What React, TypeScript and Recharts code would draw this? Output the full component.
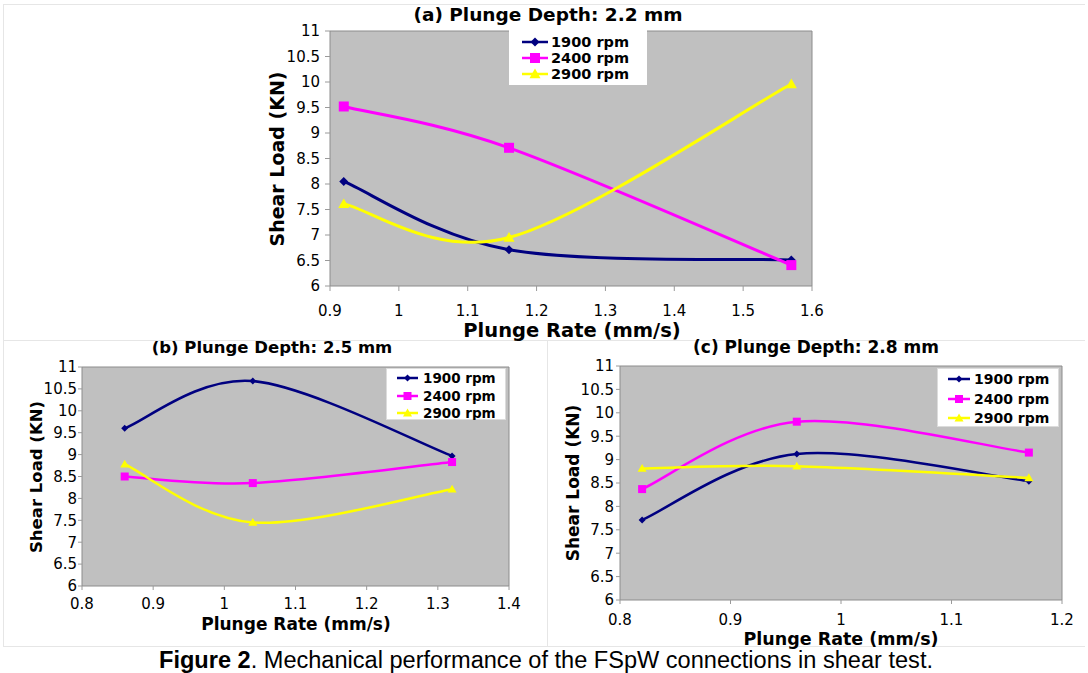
import React from 'react'
import { LineChart, Line, XAxis, YAxis, CartesianGrid, ReferenceLine, Legend } from 'recharts'

const FONT = '"DejaVu Sans", Verdana, sans-serif'

const seriesNames = ['1900 rpm', '2400 rpm', '2900 rpm']
const seriesKeys = ['r1900', 'r2400', 'r2900']
const seriesColors = ['#000080', '#ff00ff', '#ffff00']
const loadTicks = [6, 6.5, 7, 7.5, 8, 8.5, 9, 9.5, 10, 10.5, 11]

// (a) plunge depth 2.2 mm
const rateA = [0.92, 1.16, 1.57]
const a1900 = [8.05, 6.71, 6.51]
const a2400 = [9.52, 8.71, 6.41]
const a2900 = [7.61, 6.95, 9.96]
const ticksA = [0.9, 1, 1.1, 1.2, 1.3, 1.4, 1.5, 1.6]

// (b) plunge depth 2.5 mm
const rateB = [0.86, 1.04, 1.32]
const b1900 = [9.6, 10.68, 8.97]
const b2400 = [8.5, 8.35, 8.83]
const b2900 = [8.78, 7.45, 8.21]
const ticksB = [0.8, 0.9, 1, 1.1, 1.2, 1.3, 1.4]

// (c) plunge depth 2.8 mm
const rateC = [0.82, 0.96, 1.17]
const c1900 = [7.71, 9.12, 8.54]
const c2400 = [8.37, 9.81, 9.15]
const c2900 = [8.81, 8.86, 8.61]
const ticksC = [0.8, 0.9, 1, 1.1, 1.2]

const toRows = (rate: number[], s1: number[], s2: number[], s3: number[]) =>
  rate.map((x, i) => ({ rate: x, r1900: s1[i], r2400: s2[i], r2900: s3[i] }))

// Excel style smoothed line (catmull-rom through the points)
function excelCurve(context: any) {
  let pts: number[][] = []
  return {
    areaStart() {},
    areaEnd() {},
    lineStart() {
      pts = []
    },
    point(x: number, y: number) {
      pts.push([+x, +y])
    },
    lineEnd() {
      const n = pts.length
      if (!n) return
      context.moveTo(pts[0][0], pts[0][1])
      for (let i = 0; i < n - 1; i++) {
        const p0 = pts[Math.max(i - 1, 0)]
        const p1 = pts[i]
        const p2 = pts[i + 1]
        const p3 = pts[Math.min(i + 2, n - 1)]
        context.bezierCurveTo(
          p1[0] + (p2[0] - p0[0]) / 6,
          p1[1] + (p2[1] - p0[1]) / 6,
          p2[0] - (p3[0] - p1[0]) / 6,
          p2[1] - (p3[1] - p1[1]) / 6,
          p2[0],
          p2[1]
        )
      }
    },
  }
}

function shape(kind: number, cx: number, cy: number, size: number, color: string, key?: any) {
  const h = size / 2
  if (kind === 0) {
    return <path key={key} d={`M${cx},${cy - h}L${cx + h},${cy}L${cx},${cy + h}L${cx - h},${cy}Z`} fill={color} />
  }
  if (kind === 1) {
    return <rect key={key} x={cx - h} y={cy - h} width={size} height={size} fill={color} />
  }
  return <path key={key} d={`M${cx},${cy - h}L${cx + h},${cy + h * 0.75}L${cx - h},${cy + h * 0.75}Z`} fill={color} />
}

const dotFor = (kind: number, size: number) => (p: any) => {
  const key = p.key ?? `${kind}-${p.index}`
  if (p.cx == null || p.cy == null) return <g key={key} />
  return shape(kind, p.cx, p.cy, size, seriesColors[kind], key)
}

interface LegendSpec {
  x: number
  y: number
  w: number
  h: number
  rows: number[]
  sampleX: number
  sampleW: number
  textX: number
  fontSize: number
  border: string
}

function LegendBox({ spec, sizes }: { spec: LegendSpec; sizes: number[] }) {
  return (
    <svg width={spec.w} height={spec.h} style={{ display: 'block' }}>
      <rect x={0.5} y={0.5} width={spec.w - 1} height={spec.h - 1} fill="#fff" stroke={spec.border} />
      {seriesNames.map((name, i) => (
        <g key={name}>
          <line
            x1={spec.sampleX}
            x2={spec.sampleX + spec.sampleW}
            y1={spec.rows[i]}
            y2={spec.rows[i]}
            stroke={seriesColors[i]}
            strokeWidth={2.5}
          />
          {shape(i, spec.sampleX + spec.sampleW / 2, spec.rows[i], sizes[i], seriesColors[i])}
          <text
            x={spec.textX}
            y={spec.rows[i]}
            dominantBaseline="central"
            fontWeight="bold"
            fontSize={spec.fontSize}
            fontFamily={FONT}
            fill="#000"
          >
            {name}
          </text>
        </g>
      ))}
    </svg>
  )
}

interface PanelProps {
  left: number
  top: number
  width: number
  height: number
  margin: { top: number; right: number; bottom: number; left: number }
  rows: any[]
  xTicks: number[]
  yWidth: number
  xHeight: number
  xTickSize: number
  xTickMargin: number
  yTickSize: number
  yTickMargin: number
  strokeWidth: number
  sizes: number[]
  legend: LegendSpec
}

function Panel(p: PanelProps) {
  const xMin = p.xTicks[0]
  const xMax = p.xTicks[p.xTicks.length - 1]
  const tick = { fontSize: 15, fill: '#000', fontFamily: FONT }
  return (
    <div style={{ position: 'absolute', left: p.left, top: p.top }}>
      <LineChart width={p.width} height={p.height} data={p.rows} margin={p.margin} style={{ fontFamily: FONT }}>
        <CartesianGrid fill="#c0c0c0" fillOpacity={1} horizontal={false} vertical={false} />
        <XAxis
          dataKey="rate"
          type="number"
          domain={[xMin, xMax]}
          ticks={p.xTicks}
          interval={0}
          height={p.xHeight}
          tick={tick}
          tickSize={p.xTickSize}
          tickMargin={p.xTickMargin}
          axisLine={{ stroke: '#8c8c8c' }}
          tickLine={{ stroke: '#9a9a9a' }}
        />
        <YAxis
          type="number"
          domain={[6, 11]}
          ticks={loadTicks}
          interval={0}
          width={p.yWidth}
          tick={tick}
          tickSize={p.yTickSize}
          tickMargin={p.yTickMargin}
          axisLine={{ stroke: '#8c8c8c' }}
          tickLine={{ stroke: '#9a9a9a' }}
        />
        <ReferenceLine y={11} stroke="#8c8c8c" />
        <ReferenceLine x={xMax} stroke="#8c8c8c" />
        {seriesKeys.map((k, i) => (
          <Line
            key={k}
            dataKey={k}
            name={seriesNames[i]}
            type={excelCurve as any}
            stroke={seriesColors[i]}
            strokeWidth={p.strokeWidth}
            dot={dotFor(i, p.sizes[i]) as any}
            activeDot={false}
            isAnimationActive={false}
          />
        ))}
        <Legend
          layout="vertical"
          align="center"
          verticalAlign="middle"
          wrapperStyle={{ left: p.legend.x, top: p.legend.y, width: p.legend.w, height: p.legend.h }}
          content={() => <LegendBox spec={p.legend} sizes={p.sizes} />}
        />
      </LineChart>
    </div>
  )
}

export default function App() {
  const bold = { fontFamily: FONT, fontWeight: 'bold' as const, fill: '#000' }
  return (
    <div
      style={{
        position: 'absolute',
        left: 0,
        top: 0,
        width: 1088,
        height: 673,
        background: '#fff',
        overflow: 'hidden',
      }}
    >
      <Panel
        left={0}
        top={0}
        width={830}
        height={340}
        margin={{ top: 31, right: 18, bottom: 24, left: 280 }}
        rows={toRows(rateA, a1900, a2400, a2900)}
        xTicks={ticksA}
        yWidth={50}
        xHeight={30}
        xTickSize={5}
        xTickMargin={14}
        yTickSize={5}
        yTickMargin={5}
        strokeWidth={3}
        sizes={[9, 10, 11]}
        legend={{ x: 509, y: 30, w: 138, h: 55, rows: [12, 28, 44], sampleX: 13, sampleW: 26, textX: 42, fontSize: 14.5, border: '#ffffff' }}
      />
      <Panel
        left={0}
        top={340}
        width={545}
        height={306}
        margin={{ top: 27, right: 36, bottom: 40, left: 52 }}
        rows={toRows(rateB, b1900, b2400, b2900)}
        xTicks={ticksB}
        yWidth={30}
        xHeight={20}
        xTickSize={4}
        xTickMargin={8}
        yTickSize={4}
        yTickMargin={1}
        strokeWidth={2.5}
        sizes={[7, 8, 9]}
        legend={{ x: 386, y: 28, w: 120, h: 52, rows: [10, 28, 45], sampleX: 11, sampleW: 21, textX: 37, fontSize: 13.5, border: '#dcdcdc' }}
      />
      <Panel
        left={547}
        top={340}
        width={541}
        height={306}
        margin={{ top: 26, right: 26, bottom: 26, left: 33 }}
        rows={toRows(rateC, c1900, c2400, c2900)}
        xTicks={ticksC}
        yWidth={40}
        xHeight={20}
        xTickSize={4}
        xTickMargin={10}
        yTickSize={4}
        yTickMargin={2}
        strokeWidth={2.5}
        sizes={[7, 8, 9]}
        legend={{ x: 390, y: 28, w: 122, h: 59, rows: [11, 31, 50], sampleX: 11, sampleW: 22, textX: 37, fontSize: 14, border: '#dcdcdc' }}
      />
      <svg
        width={1088}
        height={673}
        style={{ position: 'absolute', left: 0, top: 0, pointerEvents: 'none' }}
      >
        {/* faint panel frames */}
        <g stroke="#e6e6e6" strokeWidth={1}>
          <line x1={3} x2={1085} y1={4.5} y2={4.5} />
          <line x1={3.5} x2={3.5} y1={4} y2={646} />
          <line x1={3} x2={1085} y1={340.5} y2={340.5} />
          <line x1={547.5} x2={547.5} y1={340} y2={646} />
          <line x1={3} x2={1085} y1={646.5} y2={646.5} />
        </g>

        <text x={548} y={14} textAnchor="middle" dominantBaseline="central" fontSize={18.5} {...bold}>
          (a) Plunge Depth: 2.2 mm
        </text>
        <text x={572} y={330} textAnchor="middle" dominantBaseline="central" fontSize={19.5} {...bold}>
          Plunge Rate (mm/s)
        </text>
        <text
          x={277}
          y={159}
          textAnchor="middle"
          dominantBaseline="central"
          fontSize={19}
          transform="rotate(-90 277 159)"
          {...bold}
        >
          Shear Load (KN)
        </text>

        <text x={272} y={347} textAnchor="middle" dominantBaseline="central" fontSize={16.5} {...bold}>
          (b) Plunge Depth: 2.5 mm
        </text>
        <text x={296} y={624} textAnchor="middle" dominantBaseline="central" fontSize={17} {...bold}>
          Plunge Rate (mm/s)
        </text>
        <text
          x={36}
          y={477}
          textAnchor="middle"
          dominantBaseline="central"
          fontSize={16.5}
          transform="rotate(-90 36 477)"
          {...bold}
        >
          Shear Load (KN)
        </text>

        <text x={816} y={347} textAnchor="middle" dominantBaseline="central" fontSize={17} {...bold}>
          (c) Plunge Depth: 2.8 mm
        </text>
        <text x={841} y={639} textAnchor="middle" dominantBaseline="central" fontSize={17.5} {...bold}>
          Plunge Rate (mm/s)
        </text>
        <text
          x={573}
          y={483}
          textAnchor="middle"
          dominantBaseline="central"
          fontSize={17}
          transform="rotate(-90 573 483)"
          {...bold}
        >
          Shear Load (KN)
        </text>

        <text
          x={159}
          y={668}
          fontSize={23.5}
          fontFamily='"Liberation Sans", Arial, sans-serif'
          fill="#000"
          textLength={774}
          lengthAdjust="spacingAndGlyphs"
        >
          <tspan fontWeight="bold">Figure 2</tspan>
          <tspan>. Mechanical performance of the FSpW connections in shear test.</tspan>
        </text>
      </svg>
    </div>
  )
}
